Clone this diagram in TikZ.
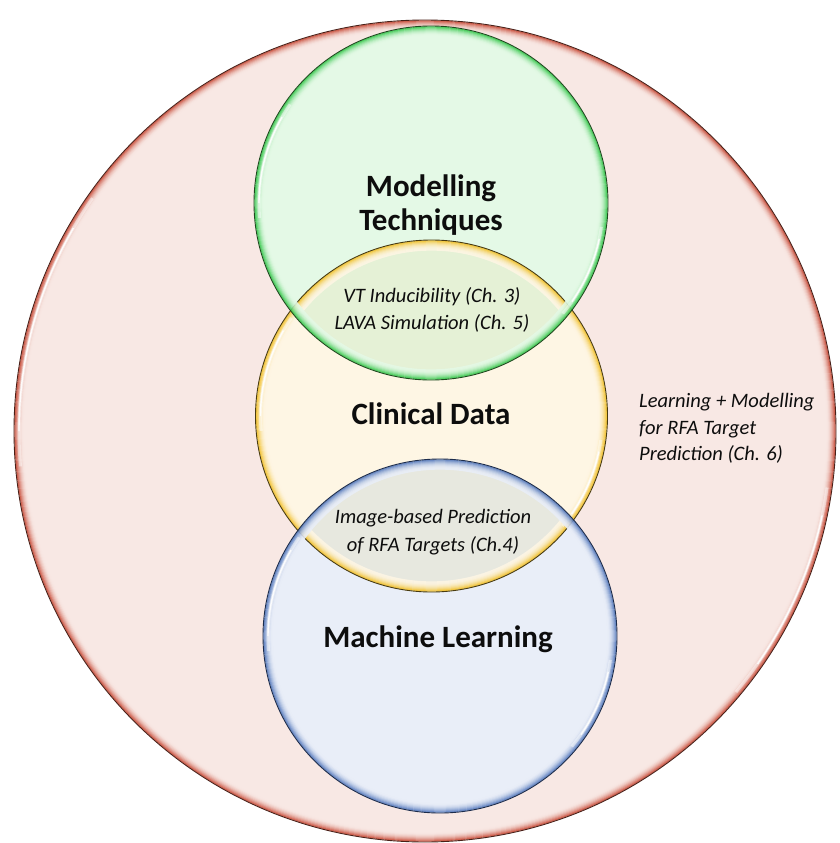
\documentclass[tikz,border=0pt]{standalone}
\usepackage{fontspec}
\setmainfont{Carlito}
\definecolor{pinkfill}{HTML}{F8E8E4}
\definecolor{redring}{HTML}{C84A36}
\definecolor{redline}{HTML}{4A2018}
\definecolor{greenfill}{HTML}{E4F9E6}
\definecolor{greenring}{HTML}{36C84C}
\definecolor{greenline}{HTML}{1E4A1E}
\definecolor{yelfill}{HTML}{FEF6E4}
\definecolor{yelring}{HTML}{F2C028}
\definecolor{yelline}{HTML}{4A3C10}
\definecolor{bluefill}{HTML}{E9EEF8}
\definecolor{bluering}{HTML}{5478BC}
\definecolor{blueline}{HTML}{1C2C4C}
\definecolor{gyfill}{HTML}{E5F1D6}
\definecolor{ybfill}{HTML}{E7E8DF}
\definecolor{txt}{HTML}{0D0D0D}
\newcommand\myring[5]{%
  \foreach \i in {0,...,9} {%
    \pgfmathtruncatemacro\pc{100*(1-\i/9)^2}%
    \draw[draw=#3!\pc!#4, line width=1.3pt, draw opacity=0.85] (#1) circle[radius=#2-1-\i];
  }%
  \draw[white, line width=3pt, draw opacity=0.45] (#1) ++(175:#2-5) arc[start angle=175, end angle=215, radius=#2-5];
  \draw[white, line width=1.4pt, draw opacity=0.9] (#1) ++(180:#2-5) arc[start angle=180, end angle=210, radius=#2-5];
  \draw[white, line width=3pt, draw opacity=0.45] (#1) ++(8:#2-5) arc[start angle=8, end angle=40, radius=#2-5];
  \draw[white, line width=1.4pt, draw opacity=0.9] (#1) ++(12:#2-5) arc[start angle=12, end angle=35, radius=#2-5];
  \draw[#5, line width=0.9pt] (#1) circle[radius=#2];
}
\tikzset{
  bigtxt/.style={font=\fontsize{31}{34}\selectfont\bfseries, text=txt, anchor=base, inner sep=0pt},
  smalltxt/.style={font=\fontsize{20.5}{27}\selectfont\itshape, text=txt, anchor=base, inner sep=0pt},
  sidetxt/.style={smalltxt, anchor=base west}
}
\begin{document}
\begin{tikzpicture}[x=1pt,y=-1pt]
\useasboundingbox (0,0) rectangle (840,843);
\coordinate (big) at (425,431);
\coordinate (gc) at (431,203);
\coordinate (yc) at (431.5,416);
\coordinate (bc) at (440,636);
% fills
\fill[pinkfill] (big) circle[radius=411];
\myring{big}{411}{redring}{pinkfill}{redline}
\fill[greenfill] (gc) circle[radius=177];
\fill[yelfill] (yc) circle[radius=176];
\fill[bluefill] (bc) circle[radius=177];
\begin{scope}
  \clip (gc) circle[radius=177];
  \fill[gyfill] (yc) circle[radius=176];
\end{scope}
\begin{scope}
  \clip (yc) circle[radius=176];
  \fill[ybfill] (bc) circle[radius=177];
\end{scope}
% rings
\myring{yc}{176}{yelring}{yelfill}{yelline}
\myring{gc}{177}{greenring}{greenfill}{greenline}
\myring{bc}{177}{bluering}{bluefill}{blueline}
% texts
\node[bigtxt] (mod1) at (431,196) {Modelling};
\node[bigtxt] (mod2) at (431,230) {Techniques};
\node[smalltxt] (vt) at (432,302) {VT Inducibility (Ch. 3)};
\node[smalltxt] (lava) at (432,329) {LAVA Simulation (Ch. 5)};
\node[bigtxt] (clin) at (431,424) {Clinical Data};
\node[smalltxt] (img1) at (433,523) {Image-based Prediction};
\node[smalltxt] (img2) at (433,551) {of RFA Targets (Ch.4)};
\node[bigtxt] (ml) at (438,647) {Machine Learning};
\node[sidetxt] (side1) at (639,407) {Learning + Modelling};
\node[sidetxt] (side2) at (639,434) {for RFA Target};
\node[sidetxt] (side3) at (639,460) {Prediction (Ch. 6)};
\end{tikzpicture}
\end{document}
